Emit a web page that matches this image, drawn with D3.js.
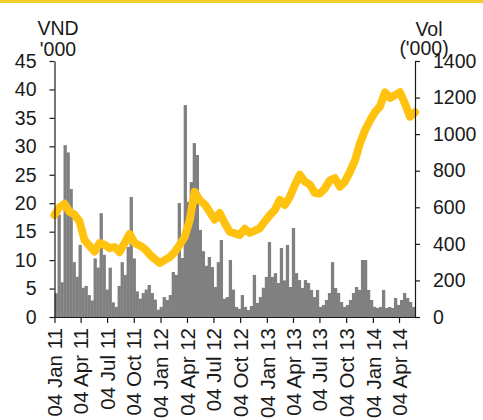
<!DOCTYPE html>
<html>
<head>
<meta charset="utf-8">
<script src="https://cdn.jsdelivr.net/npm/d3@7"></script>
<style>
  html, body { margin: 0; padding: 0; background: #fff; }
  svg { display: block; }
  text { font-family: "Liberation Sans", Arial, sans-serif; fill: #1a1a1a; }
</style>
</head>
<body>
<svg id="chart" width="483" height="420"></svg>
<script>
// ---- Data ----
const startDate = "2011-01-04";
const endDate = "2014-05-29";

// Share price, VND '000 (left axis), evenly spaced samples
const priceValues = [
  17.9, 19.3, 19.9, 18.5, 18.0, 16.8, 13.5, 12.5, 11.5, 13.0,
  12.7, 12.1, 12.3, 11.4, 13.0, 14.6, 13.0, 12.6, 12.0, 11.0,
  10.2, 9.5, 10.0, 10.5, 11.4, 12.7, 14.1, 17.0, 22.0, 20.5,
  19.8, 18.5, 17.1, 18.3, 16.5, 15.0, 14.7, 14.4, 15.5, 14.8,
  15.2, 15.6, 16.8, 17.9, 18.8, 20.6, 19.7, 21.1, 23.2, 25.0,
  23.8, 23.3, 21.8, 21.7, 22.6, 24.0, 24.4, 22.9, 23.8, 25.5,
  27.5, 30.5, 32.8, 34.5, 36.0, 37.0, 39.5, 38.5, 39.0, 39.5,
  37.5, 35.2, 36.0
];

// Volume, '000 shares (right axis), evenly spaced periods
const volumeValues = [
  130, 560, 190, 940, 900, 700, 300, 220, 394, 160,
  170, 120, 90, 320, 270, 568, 340, 150, 270, 80,
  55, 170, 300, 230, 383, 656, 320, 140, 100, 131,
  150, 175, 131, 95, 40, 55, 109, 93, 120, 246,
  230, 623, 323, 1159, 630, 738, 951, 886, 476, 360,
  280, 328, 273, 164, 300, 421, 100, 109, 312, 150,
  55, 45, 120, 55, 38, 60, 230, 77, 109, 160,
  219, 410, 219, 240, 186, 377, 200, 394, 164, 487,
  240, 202, 159, 202, 186, 148, 109, 148, 55, 66,
  93, 131, 300, 159, 131, 82, 55, 66, 93, 131,
  164, 148, 312, 312, 148, 93, 55, 49, 55, 148,
  49, 55, 49, 104, 66, 93, 131, 104, 82, 55
];

const xTickDates = [
  "2011-01-04", "2011-04-04", "2011-07-04", "2011-10-04",
  "2012-01-04", "2012-04-04", "2012-07-04", "2012-10-04",
  "2013-01-04", "2013-04-04", "2013-07-04", "2013-10-04",
  "2014-01-04", "2014-04-04"
];
const priceTicks = [0, 5, 10, 15, 20, 25, 30, 35, 40, 45];
const volumeTicks = [0, 200, 400, 600, 800, 1000, 1200, 1400];

// ---- Build ----
const parse = d3.utcParse("%Y-%m-%d");
const t0 = parse(startDate), t1 = parse(endDate);
const totalMs = t1 - t0;

const priceData = priceValues.map((v, i) => ({
  date: new Date(+t0 + totalMs * i / (priceValues.length - 1)), v
}));
const volData = volumeValues.map((v, i) => ({
  d0: new Date(+t0 + totalMs * i / volumeValues.length),
  d1: new Date(+t0 + totalMs * (i + 1) / volumeValues.length), v
}));

const svg = d3.select("#chart");
const plotLeft = 54.5, plotRight = 415, plotTop = 61, plotBottom = 317;

const x = d3.scaleUtc().domain([t0, t1]).range([plotLeft, plotRight]);
const yL = d3.scaleLinear().domain([0, 45]).range([plotBottom, plotTop]);
const yR = d3.scaleLinear().domain([0, 1400]).range([plotBottom, plotTop]);

// top yellow band
svg.append("rect").attr("x", 0).attr("y", 0).attr("width", 483).attr("height", 3)
  .attr("fill", "#f3cd2a");

// volume bars
svg.append("g").selectAll("rect").data(volData).join("rect")
  .attr("x", d => x(d.d0))
  .attr("width", d => x(d.d1) - x(d.d0) + 0.3)
  .attr("y", d => yR(d.v))
  .attr("height", d => yR(0) - yR(d.v))
  .attr("fill", "#808080");

// price line
const line = d3.line().x(d => x(d.date)).y(d => yL(d.v)).curve(d3.curveLinear);
svg.append("path").datum(priceData)
  .attr("d", line)
  .attr("fill", "none")
  .attr("stroke", "#ffc30f")
  .attr("stroke-width", 8)
  .attr("stroke-linejoin", "round")
  .attr("stroke-linecap", "round");

const fs = "19.5px";

// left axis
const gL = svg.append("g").attr("transform", `translate(${plotLeft},0)`)
  .call(d3.axisLeft(yL).tickValues(priceTicks).tickFormat(d3.format("d"))
    .tickSize(5).tickSizeOuter(0).tickPadding(13));
// right axis
const gR = svg.append("g").attr("transform", `translate(${plotRight},0)`)
  .call(d3.axisRight(yR).tickValues(volumeTicks).tickFormat(d3.format("d"))
    .tickSize(5).tickSizeOuter(0).tickPadding(13));
// x axis
const fmt = d3.utcFormat("%d %b %y");
const gX = svg.append("g").attr("transform", `translate(0,${plotBottom})`)
  .call(d3.axisBottom(x).tickValues(xTickDates.map(parse)).tickFormat(fmt).tickSize(6).tickSizeOuter(0));

[gL, gR, gX].forEach(g => {
  g.selectAll("path, line").attr("stroke", "#1a1a1a").attr("stroke-width", 1.2);
  g.selectAll("text").style("font-size", fs).attr("fill", "#1a1a1a")
    .style("font-family", '"Liberation Sans", Arial, sans-serif');
});

gX.selectAll(".tick text")
  .style("font-size", "20.5px")
  .attr("transform", "rotate(-90)")
  .attr("text-anchor", "end")
  .attr("x", -11)
  .attr("y", 0)
  .attr("dy", "0.35em");

// axis titles
svg.append("text").attr("x", 58).attr("y", 35).attr("text-anchor", "middle")
  .style("font-size", fs).text("VND");
svg.append("text").attr("x", 58).attr("y", 56).attr("text-anchor", "middle")
  .style("font-size", fs).text("'000");
svg.append("text").attr("x", 429).attr("y", 36).attr("text-anchor", "middle")
  .style("font-size", fs).text("Vol");
svg.append("text").attr("x", 424).attr("y", 55).attr("text-anchor", "middle")
  .style("font-size", fs).text("('000)");
</script>
</body>
</html>
